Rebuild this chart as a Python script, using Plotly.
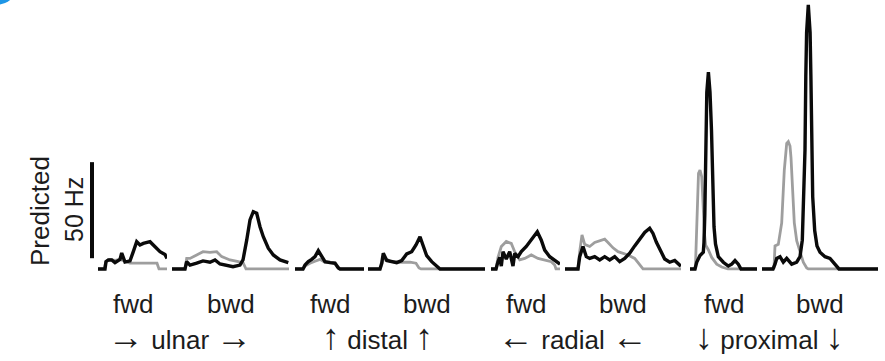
import plotly.graph_objects as go

W, H = 885, 361

# ---------------- data (time in s, predicted rate in Hz) ----------------
PANELS = ["ulnar fwd", "ulnar bwd", "distal fwd", "distal bwd",
          "radial fwd", "radial bwd", "proximal fwd", "proximal bwd"]
TICK_LABELS = ["fwd", "bwd", "fwd", "bwd", "fwd", "bwd", "fwd", "bwd"]
GROUP_NAMES = ["ulnar", "distal", "radial", "proximal"]
GROUP_ARROWS = ["\u2192", "\u2191", "\u2190", "\u2193"]
DURATION = [0.69, 1.17, 0.69, 1.17, 0.69, 1.16, 0.67, 1.16]

# ulnar fwd
UF_T_BLACK = [0, .07, .08, .103, .137, .17, .22, .237, .27, .32, .353, .387, .42, .453, .52, .57, .62, .67, .69]
UF_R_BLACK = [0, 0, 3.8, 4.7, 4.7, 3.3, 5, 8.3, 3.6, 4.2, 9, 14.2, 12.5, 13.3, 14.2, 11.7, 9, 7.5, 5.5]
UF_T_GREY = [0, .06, .08, .12, .17, .22, .27, .32, .42, .52, .59, .61, .69]
UF_R_GREY = [0, 0, 4, 5, 4.5, 5, 4, 3, 3, 3, 3, 0, 0]
# ulnar bwd
UB_T_BLACK = [0, .13, .147, .18, .247, .31, .38, .43, .48, .547, .61, .68, .71, .747, .78, .813, .847, .88, .913, .963, 1.013, 1.08, 1.163]
UB_R_BLACK = [0, 0, 3.8, 2, 3, 4.2, 3.5, 4.7, 2.6, 2, 1.2, 2, 4.7, 15, 25.5, 29.8, 29, 22, 16.8, 10.8, 7.3, 4.7, 3.3]
UB_T_GREY = [0, .13, .147, .18, .247, .31, .38, .447, .497, .58, .663, .713, .74, 1.17]
UB_R_GREY = [0, 0, 5.5, 5.5, 7.3, 9, 8.6, 9, 6.4, 4.7, 3.8, 3, 0, 0]
# distal fwd
DF_T_BLACK = [0, .08, .10, .133, .167, .20, .233, .267, .30, .35, .40, .433, .45, .69]
DF_R_BLACK = [0, 0, 2, 3.8, 5, 6.4, 9.5, 6.4, 3.8, 3.3, 3, 0.5, 0, 0]
DF_T_GREY = [0, .08, .10, .15, .20, .25, .30, .35, .40, .43, .45, .69]
DF_R_GREY = [0, 0, 1.5, 3, 4, 5, 3.5, 3.5, 3, 1, 0, 0]
# distal bwd
DB_T_BLACK = [0, .12, .137, .153, .187, .237, .287, .337, .387, .437, .48, .52, .553, .587, .637, .687, .72, 1.17]
DB_R_BLACK = [0, 0, 3, 8.2, 4.4, 3.8, 3.3, 4.4, 7.8, 9, 12.5, 16.8, 11.5, 6.9, 3.8, 1.2, 0, 0]
DB_T_GREY = [0, .12, .137, .16, .22, .32, .42, .48, .51, .53, 1.17]
DB_R_GREY = [0, 0, 2, 6, 4, 3.5, 3.5, 3, 0.5, 0, 0]
# radial fwd
RF_T_BLACK = [0, .05, .07, .087, .103, .12, .153, .187, .22, .237, .27, .303, .353, .403, .463, .503, .537, .587, .637, .677, .69]
RF_R_BLACK = [0, 0, 3.8, 6, 1.5, 9, 5.2, 9, 1.5, 8, 6.4, 9, 11.7, 15, 19.4, 15, 9.8, 6.4, 4.7, 3, 2.5]
RF_T_GREY = [0, .05, .07, .103, .153, .203, .237, .287, .337, .403, .47, .537, .603, .637, .65, .69]
RF_R_GREY = [0, 0, 6, 11.7, 14.3, 13.3, 9, 4.7, 5.5, 7.3, 5.5, 4.7, 3.8, 2, 0, 0]
# radial bwd
RB_T_BLACK = [0, .13, .147, .18, .213, .247, .297, .347, .397, .447, .497, .547, .597, .647, .697, .747, .797, .847, .88, .913, .947, .997, 1.047, 1.097, 1.147, 1.16]
RB_R_BLACK = [0, 0, 6.4, 11.7, 6.4, 5.5, 6.4, 4.7, 6.4, 4.7, 6.4, 3.8, 5.5, 8.2, 12, 15.5, 19, 21.2, 18.5, 14, 10.4, 5.2, 3.5, 4.4, 2, 1.5]
RB_T_GREY = [0, .13, .147, .17, .197, .247, .297, .347, .397, .43, .48, .53, .58, .63, .697, .747, .78, 1.16]
RB_R_GREY = [0, 0, 9, 17.7, 12.8, 11.7, 13.8, 14.7, 15.5, 13.8, 11, 9, 8, 7.3, 5.5, 2.5, 0, 0]
# proximal fwd
PF_T_BLACK = [0, .05, .067, .10, .133, .14, .148, .154, .16, .168, .184, .20, .215, .223, .23, .24, .255, .283, .333, .383, .417, .45, .483, .51, .67]
PF_R_BLACK = [0, 0, 3.5, 7, 8.7, 14, 28, 50, 72, 92, 102.5, 92, 72, 50, 35, 22, 13, 6.4, 3.5, 1.5, 2.5, 4.4, 2.5, 0, 0]
PF_T_GREY = [0, .05, .055, .067, .077, .085, .10, .117, .125, .133, .145, .157, .183, .217, .267, .317, .38, .67]
PF_R_GREY = [0, 0, 2, 20, 38, 49.8, 51.5, 48, 40, 29, 18, 12.4, 10, 6, 2.5, 1, 0, 0]
# proximal bwd
PB_T_BLACK = [0, .11, .13, .147, .18, .213, .247, .297, .347, .38, .403, .42, .43, .438, .446, .463, .481, .489, .497, .507, .527, .55, .58, .63, .68, .713, .747, .77, 1.16]
PB_R_BLACK = [0, 0, 2.5, 5.5, 6.4, 3.5, 5.5, 2.5, 3.5, 6.4, 15, 37.6, 62, 100, 123, 137.5, 123, 100, 62, 37.6, 20, 12, 8.7, 6.4, 5.5, 3.5, 1, 0, 0]
PB_T_GREY = [0, .11, .12, .13, .163, .197, .223, .247, .263, .28, .29, .303, .323, .347, .38, .413, .447, .463, 1.16]
PB_R_GREY = [0, 0, 0.5, 12, 12.8, 24, 51.5, 65.4, 66.3, 64, 58, 46, 24, 14.7, 9.5, 3.5, 0.5, 0, 0]

BLACK_T = [UF_T_BLACK, UB_T_BLACK, DF_T_BLACK, DB_T_BLACK, RF_T_BLACK, RB_T_BLACK, PF_T_BLACK, PB_T_BLACK]
BLACK_R = [UF_R_BLACK, UB_R_BLACK, DF_R_BLACK, DB_R_BLACK, RF_R_BLACK, RB_R_BLACK, PF_R_BLACK, PB_R_BLACK]
GREY_T = [UF_T_GREY, UB_T_GREY, DF_T_GREY, DB_T_GREY, RF_T_GREY, RB_T_GREY, PF_T_GREY, PB_T_GREY]
GREY_R = [UF_R_GREY, UB_R_GREY, DF_R_GREY, DB_R_GREY, RF_R_GREY, RB_R_GREY, PF_R_GREY, PB_R_GREY]

SCALE_BAR_HZ = 50

# ---------------- layout (pixels) ----------------
PANEL_LEFT = [98, 172, 295, 368, 491, 565, 690, 762]
PANEL_RIGHT = [167, 289, 364, 485, 560, 681, 757, 878]
GROUP_CENTER = [180, 377, 573, 769]
PLOT_BOTTOM_PX = 273
Y_RANGE = [-2.1, 140]

FONT = "Liberation Sans, Arial, Helvetica, sans-serif"
TXT = "#1c1c1c"
GREY = "#9e9e9e"


def px(x):
    return x / W


def py(y):
    return 1 - y / H


fig = go.Figure()
layout = {}
for i in range(len(PANELS)):
    ax = "x" if i == 0 else f"x{i + 1}"
    key = "xaxis" if i == 0 else f"xaxis{i + 1}"
    fig.add_trace(go.Scatter(x=GREY_T[i], y=GREY_R[i], xaxis=ax, yaxis="y", mode="lines",
                             line=dict(color=GREY, width=2.8), hoverinfo="skip", showlegend=False))
    fig.add_trace(go.Scatter(x=BLACK_T[i], y=BLACK_R[i], xaxis=ax, yaxis="y", mode="lines",
                             line=dict(color="#0a0a0a", width=3.4), hoverinfo="skip", showlegend=False))
    layout[key] = dict(domain=[px(PANEL_LEFT[i]), px(PANEL_RIGHT[i])], range=[0, DURATION[i]],
                       visible=False, anchor="y", fixedrange=True)

layout["yaxis"] = dict(domain=[1 - PLOT_BOTTOM_PX / H, 1], range=Y_RANGE, visible=False,
                       anchor="x", fixedrange=True)

annotations = []
for i, lab in enumerate(TICK_LABELS):
    c = (PANEL_LEFT[i] + PANEL_RIGHT[i]) / 2
    annotations.append(dict(text=lab, x=px(c), y=py(304), xref="paper", yref="paper",
                            xanchor="center", yanchor="middle", showarrow=False,
                            font=dict(family=FONT, size=26, color=TXT)))
for g, name in enumerate(GROUP_NAMES):
    arr = f'<span style="font-size:36px">{GROUP_ARROWS[g]}</span>'
    lab = f"{arr} {name} {arr}"
    annotations.append(dict(text=lab, x=px(GROUP_CENTER[g]), y=py(336), xref="paper", yref="paper",
                            xanchor="center", yanchor="middle", showarrow=False,
                            font=dict(family=FONT, size=26, color=TXT)))
annotations.append(dict(text="Predicted", x=px(40), y=py(211), xref="paper", yref="paper",
                        xanchor="center", yanchor="middle", showarrow=False, textangle=-90,
                        font=dict(family=FONT, size=26, color=TXT)))
annotations.append(dict(text=f"{SCALE_BAR_HZ} Hz", x=px(74), y=py(210), xref="paper", yref="paper",
                        xanchor="center", yanchor="middle", showarrow=False, textangle=-90,
                        font=dict(family=FONT, size=25, color=TXT)))

shapes = [
    dict(type="line", xref="paper", yref="y", x0=px(92), x1=px(92), y0=5.6, y1=5.6 + SCALE_BAR_HZ,
         line=dict(color="#0a0a0a", width=4)),
    dict(type="circle", xref="paper", yref="paper", x0=px(-20.5), x1=px(16.5),
         y0=py(4.5), y1=py(-32.5), fillcolor="#1e96e6", line=dict(width=0)),
]

fig.update_layout(width=W, height=H, margin=dict(l=0, r=0, t=0, b=0),
                  paper_bgcolor="white", plot_bgcolor="white",
                  annotations=annotations, shapes=shapes, **layout)

fig.write_html("out.html")
